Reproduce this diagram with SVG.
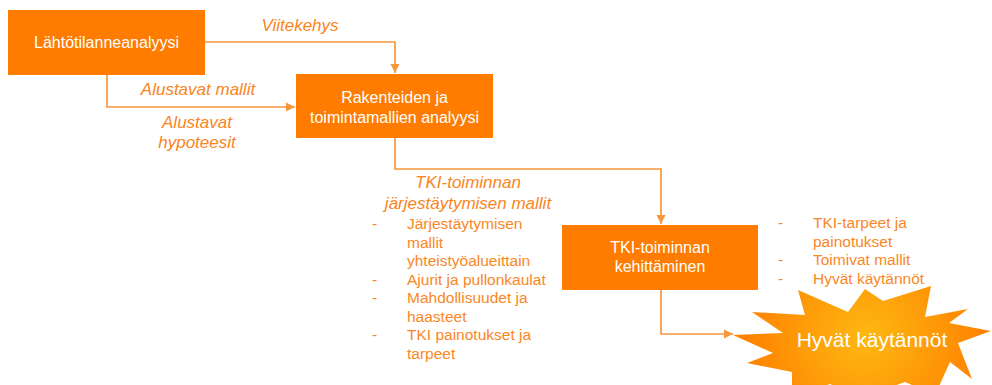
<svg xmlns="http://www.w3.org/2000/svg" width="992" height="385" viewBox="0 0 992 385">
  <style>
    .box { fill: #FF7C00; }
    .boxtext { font-family: "Liberation Sans", Arial, sans-serif; font-size: 16px; fill: #FFFFFF; text-anchor: middle; }
    .label { font-family: "Liberation Sans", Arial, sans-serif; font-size: 17px; font-style: italic; fill: #FA8520; text-anchor: middle; }
    .list { font-family: "Liberation Sans", Arial, sans-serif; font-size: 15.5px; fill: #FA8726; }
    .conn { fill: none; stroke: #F8963A; stroke-width: 1.7; marker-end: url(#arrow); }
  </style>
  <defs>
    <marker id="arrow" viewBox="0 0 10 10" refX="10" refY="5" markerWidth="5.5" markerHeight="5.5" markerUnits="strokeWidth" orient="auto">
      <path d="M0,0 L10,5 L0,10 Z" fill="#F8963A"/>
    </marker>
    <radialGradient id="starFill" cx="866" cy="338" r="120" gradientUnits="userSpaceOnUse">
      <stop offset="0" stop-color="#FDB812"/>
      <stop offset="1" stop-color="#FF8200"/>
    </radialGradient>
  </defs>

  <!-- connectors -->
  <g id="connectors">
    <polyline class="conn" points="205,42 395,42 395,73"/>
    <polyline class="conn" points="107,75 107,107 295,107"/>
    <polyline class="conn" points="395,138 395,169 661,169 661,224"/>
    <polyline class="conn" points="661,290 661,334 733,334"/>
  </g>

  <!-- edge labels -->
  <g id="labels">
    <text class="label" x="300" y="31">Viitekehys</text>
    <text class="label" x="198" y="95">Alustavat mallit</text>
    <text class="label" x="197" y="128">Alustavat</text>
    <text class="label" x="197" y="148">hypoteesit</text>
    <text class="label" x="468" y="188">TKI-toiminnan</text>
    <text class="label" x="468" y="209">järjestäytymisen mallit</text>
  </g>

  <!-- nodes -->
  <g id="node-lahtotilanne">
    <rect class="box" x="8" y="10" width="197" height="65"/>
    <text class="boxtext" x="106.5" y="48">Lähtötilanneanalyysi</text>
  </g>

  <g id="node-rakenteet">
    <rect class="box" x="296" y="74" width="197" height="64"/>
    <text class="boxtext" x="394.5" y="103">Rakenteiden ja</text>
    <text class="boxtext" x="394.5" y="123">toimintamallien analyysi</text>
  </g>

  <g id="node-kehittaminen">
    <rect class="box" x="562" y="225" width="196" height="65"/>
    <text class="boxtext" x="660" y="253">TKI-toiminnan</text>
    <text class="boxtext" x="660" y="272">kehittäminen</text>
  </g>

  <g id="node-hyvat">
    <polygon fill="url(#starFill)" points="733,335 783,333 752,312 805,315 798,290 848,312 865,289 883,301 931,286 925,317 968,309 949,323 991,331 958,343 972,379 950,362 935,395 905,382 860,398 830,384 792,398 792,372 747,363 773,353"/>
    <text x="872" y="347" font-family="'Liberation Sans', Arial, sans-serif" font-size="21" fill="#FFFFFF" text-anchor="middle">Hyvät käytännöt</text>
  </g>

  <!-- left list -->
  <g id="list-organisation" class="list">
    <text x="372" y="229">-</text>
    <text x="407" y="229">Järjestäytymisen</text>
    <text x="407" y="247.5">mallit</text>
    <text x="407" y="266">yhteistyöalueittain</text>
    <text x="372" y="284.5">-</text>
    <text x="407" y="284.5">Ajurit ja pullonkaulat</text>
    <text x="372" y="303">-</text>
    <text x="407" y="303">Mahdollisuudet ja</text>
    <text x="407" y="321.5">haasteet</text>
    <text x="372" y="340">-</text>
    <text x="407" y="340">TKI painotukset ja</text>
    <text x="407" y="358.5">tarpeet</text>
  </g>

  <!-- right list -->
  <g id="list-results" class="list">
    <text x="778" y="228">-</text>
    <text x="813" y="228">TKI-tarpeet ja</text>
    <text x="813" y="246.5">painotukset</text>
    <text x="778" y="265">-</text>
    <text x="813" y="265">Toimivat mallit</text>
    <text x="778" y="283.5">-</text>
    <text x="813" y="283.5">Hyvät käytännöt</text>
  </g>
</svg>
